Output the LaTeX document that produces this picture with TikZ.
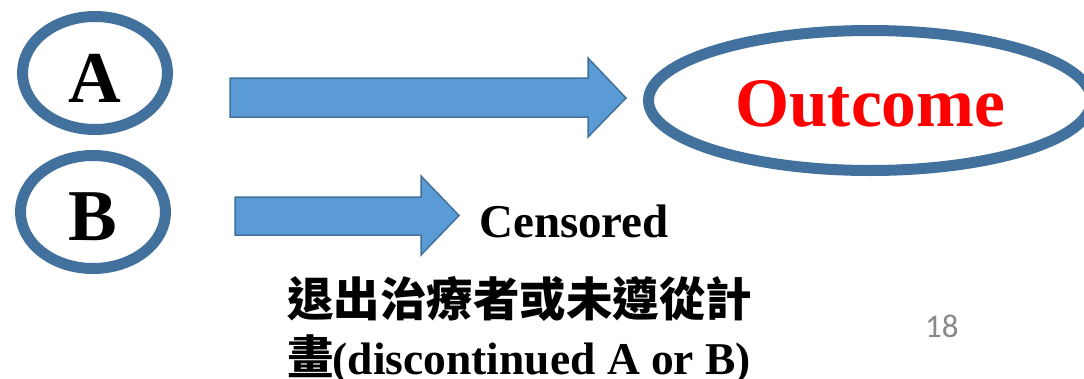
\documentclass[tikz,border=0pt]{standalone}
\usepackage{fontspec}
\setmainfont{Liberation Serif}
\newfontfamily\cjkfont{Noto Sans CJK TC}
\newfontfamily\numfont{Carlito}
\usetikzlibrary{shapes.geometric}
\definecolor{ringblue}{RGB}{65,113,156}
\definecolor{fillblue}{RGB}{91,155,213}
\definecolor{numgray}{RGB}{137,137,137}
\begin{document}
\begin{tikzpicture}[x=1pt,y=-1pt,
  ring/.style={ellipse, draw=ringblue, line width=11pt, inner sep=0pt},
  blockarrow/.style={fill=fillblue, draw=ringblue, line width=1.5pt, line join=miter},
  txt/.style={inner sep=0pt}]
\useasboundingbox (0,0) rectangle (1084,378);
\clip (0,0) rectangle (1084,378);
\fill[white] (0,0) rectangle (1084,378);
% rings
\node[ring, minimum width=145pt, minimum height=113pt] (A) at (95,73) {};
\node[ring, minimum width=145pt, minimum height=113pt] (B) at (93,212) {};
\node[ring, minimum width=443pt, minimum height=140pt] (Out) at (870,100.5) {};
% block arrows
\draw[blockarrow] (230,78) -- (588,78) -- (588,58) -- (626,98) -- (588,137) -- (588,117) -- (230,117) -- cycle;
\draw[blockarrow] (235,197) -- (421,197) -- (421,176) -- (459,215.5) -- (421,255) -- (421,235) -- (235,235) -- cycle;
% labels
\node[txt, anchor=base, font=\bfseries\fontsize{73}{73}\selectfont] (labelA) at (94.5,102) {A};
\node[txt, anchor=base, font=\bfseries\fontsize{73}{73}\selectfont] (labelB) at (93,240) {B};
\node[txt, anchor=base west, text=red, font=\bfseries\fontsize{69.5}{69.5}\selectfont] (outtext) at (735,126) {Outcome};
\node[txt, anchor=base west, font=\bfseries\fontsize{47}{47}\selectfont] (cens) at (479,237) {Censored};
\node[txt, anchor=base west, font=\cjkfont\bfseries\fontsize{46.5}{46.5}\selectfont] (zh1) at (287,316) {退出治療者或未遵從計};
\node[txt, anchor=base west] (zh2) at (287,374) {{\cjkfont\bfseries\fontsize{46.5}{46.5}\selectfont 畫}\hspace*{-1pt}{\bfseries\fontsize{45.5}{45.5}\selectfont(discontinued A or B)}};
\node[txt, anchor=base west, text=numgray, font=\numfont\fontsize{33}{33}\selectfont] (pagenum) at (925,337) {18};
\end{tikzpicture}
\end{document}
